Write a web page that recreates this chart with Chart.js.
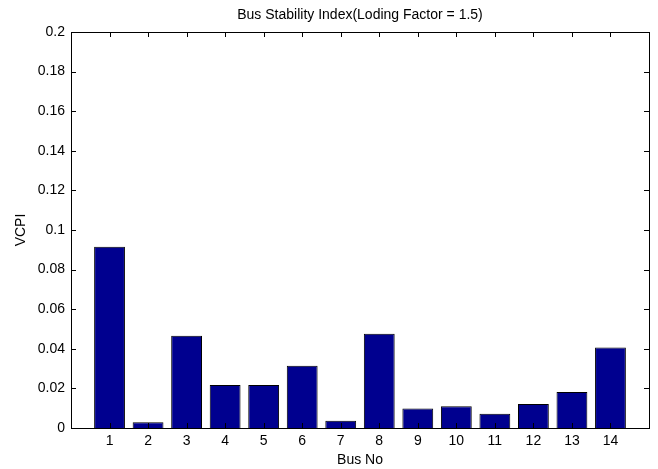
<!DOCTYPE html>
<html>
<head>
<meta charset="utf-8">
<script src="https://cdn.jsdelivr.net/npm/chart.js@4/dist/chart.umd.min.js"></script>
<style>
  html, body { margin: 0; padding: 0; background: #fff; }
  #wrap { width: 658px; height: 469px; }
</style>
</head>
<body>
<div id="wrap"><canvas id="vcpiChart"></canvas></div>
<script>
// bus numbers and their VCPI at loading factor 1.5
const busNo = [1, 2, 3, 4, 5, 6, 7, 8, 9, 10, 11, 12, 13, 14];
const vcpi = [0.0916, 0.0029, 0.0466, 0.0217, 0.0217, 0.0315, 0.0037, 0.0476, 0.0099, 0.0110, 0.0072, 0.0121, 0.0182, 0.0406];
const yTicks = [0, 0.02, 0.04, 0.06, 0.08, 0.1, 0.12, 0.14, 0.16, 0.18, 0.2];

const FONT = { family: '"Liberation Sans", Arial, sans-serif', size: 14 };

// matlab style box with ticks pointing inward on all four sides
const boxAxes = {
  id: 'boxAxes',
  afterDatasetsDraw(chart) {
    const { ctx, chartArea: a, scales } = chart;
    const tl = 5;
    ctx.save();
    ctx.strokeStyle = '#000';
    ctx.lineWidth = 1;
    ctx.beginPath();
    yTicks.forEach(v => {
      const y = Math.round(scales.y.getPixelForValue(v)) + 0.5;
      ctx.moveTo(a.left, y); ctx.lineTo(a.left + tl, y);
      ctx.moveTo(a.right, y); ctx.lineTo(a.right - tl, y);
    });
    busNo.forEach(b => {
      const x = Math.round(scales.x.getPixelForValue(b)) + 0.5;
      ctx.moveTo(x, a.bottom); ctx.lineTo(x, a.bottom - tl);
      ctx.moveTo(x, a.top); ctx.lineTo(x, a.top + tl);
    });
    ctx.stroke();
    ctx.strokeRect(Math.round(a.left) + 0.5, Math.round(a.top) + 0.5,
                   Math.round(a.right - a.left), Math.round(a.bottom - a.top));
    ctx.restore();
  }
};

new Chart(document.getElementById('vcpiChart'), {
  type: 'bar',
  data: {
    datasets: [{
      data: busNo.map((b, i) => ({ x: b, y: vcpi[i] })),
      backgroundColor: '#00008f',
      borderColor: '#000',
      borderWidth: 1,
      barPercentage: 0.8,
      categoryPercentage: 1
    }]
  },
  options: {
    responsive: true,
    maintainAspectRatio: false,
    animation: false,
    events: [],
    layout: { padding: { top: 0, right: 9, bottom: 0, left: 0 } },
    plugins: {
      legend: { display: false },
      tooltip: { enabled: false },
      title: {
        display: true,
        fullSize: false,
        text: 'Bus Stability Index(Loding Factor = 1.5)',
        color: '#000',
        font: { ...FONT, weight: 'normal' },
        padding: { top: 6.6, bottom: 8.6 }
      }
    },
    scales: {
      x: {
        type: 'linear',
        offset: false,
        min: 0,
        max: 15,
        grid: { display: false, drawTicks: false },
        border: { display: false },
        ticks: {
          stepSize: 1,
          color: '#000',
          font: FONT,
          padding: 5,
          callback: v => (v >= 1 && v <= 14 ? String(v) : '')
        },
        title: { display: true, text: 'Bus No', color: '#000', font: FONT, padding: { top: 3, bottom: 0 } },
        afterFit: s => { s.height = 41; }
      },
      y: {
        min: 0,
        max: 0.2,
        grid: { display: false, drawTicks: false },
        border: { display: false },
        ticks: {
          stepSize: 0.02,
          color: '#000',
          font: FONT,
          padding: 6,
          callback: v => String(Math.round(v * 100) / 100)
        },
        title: { display: true, text: 'VCPI', color: '#000', font: FONT, padding: { top: 13, bottom: 0 } },
        afterFit: s => { s.width = 71; }
      }
    }
  },
  plugins: [boxAxes]
});
</script>
</body>
</html>
